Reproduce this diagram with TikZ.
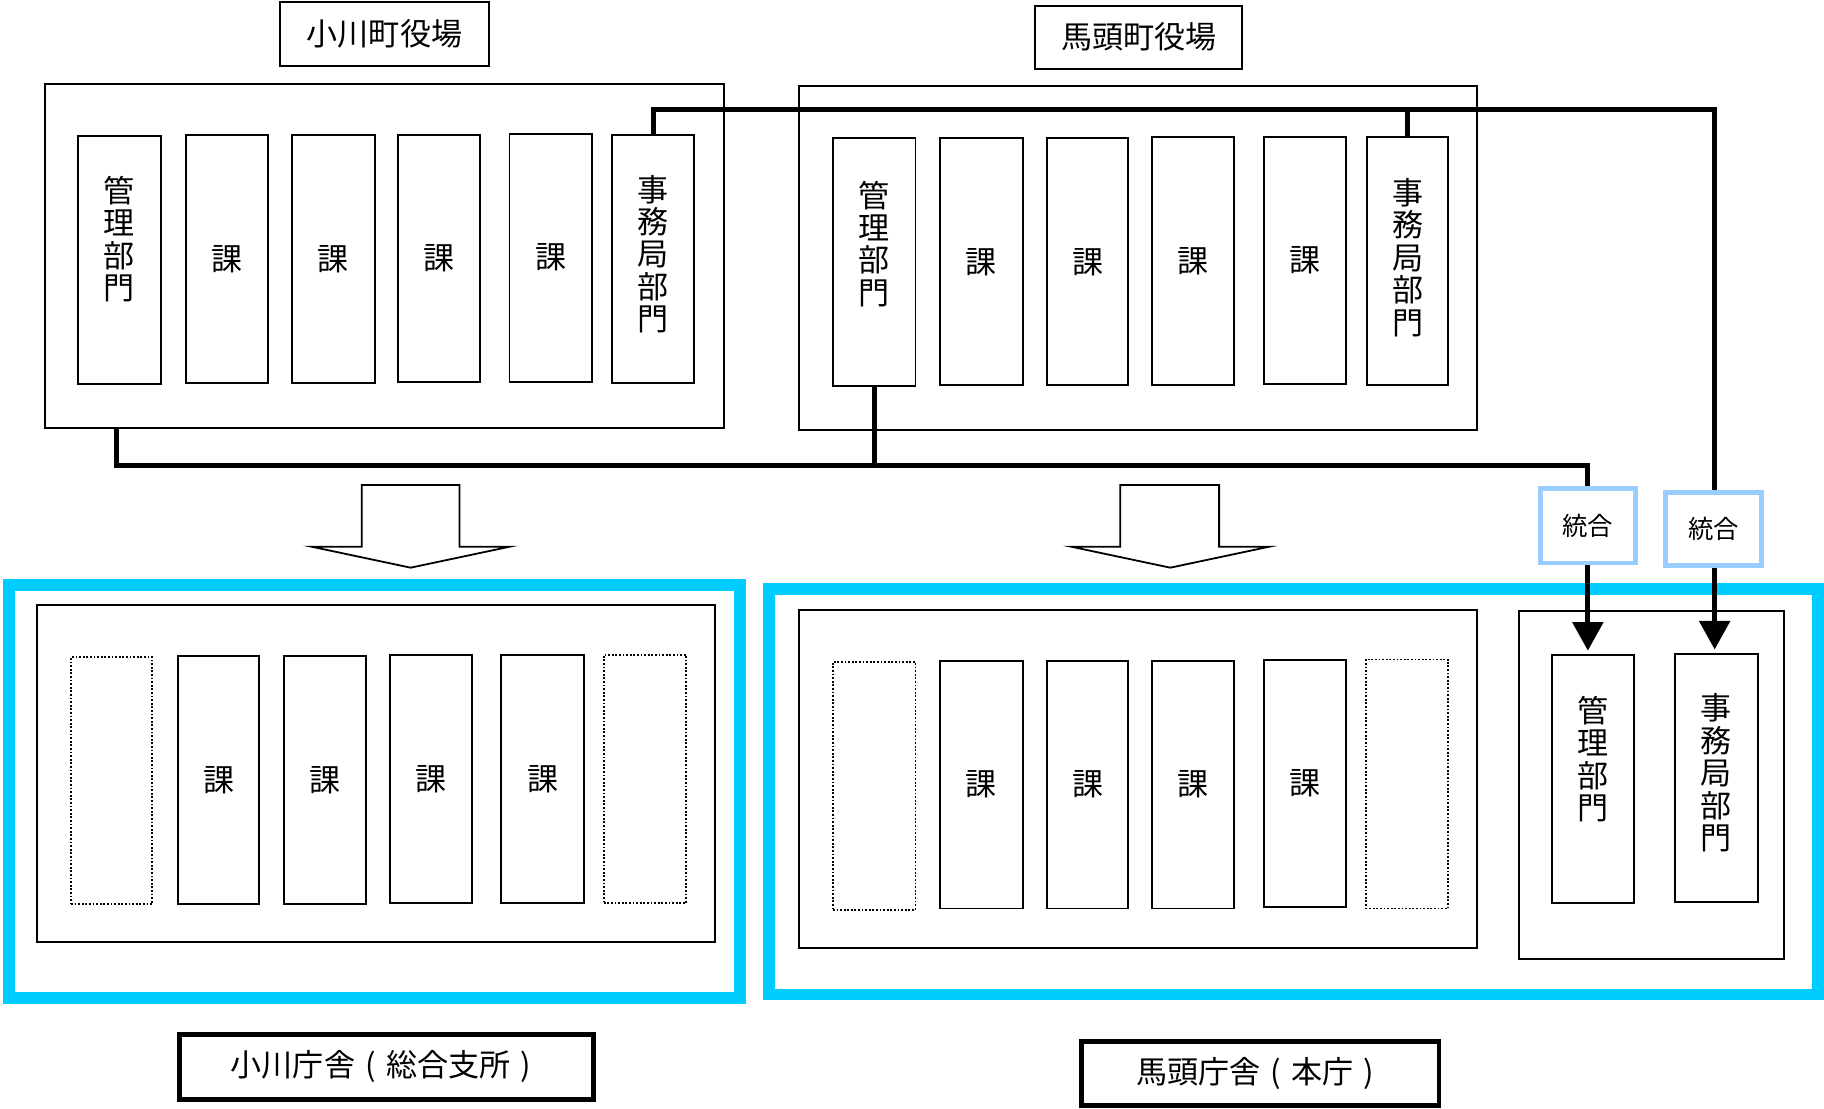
\documentclass[tikz,border=0pt]{standalone}
\usepackage{fontspec}
\setmainfont{Noto Sans CJK JP}
\usetikzlibrary{arrows.meta,calc}
\definecolor{cyanband}{HTML}{00CCFF}
\definecolor{lightband}{HTML}{99CCFF}
\newcommand\bx[6][]{\node[#1, minimum width={(#5-#3)*0.025cm}, minimum height={(#6-#4)*0.025cm}] (#2) at ({(#3+#5)/2},{(#4+#6)/2}) {};}
\newcommand\cpar[1]{\makebox[1em][c]{#1}}
\tikzset{
  thinbox/.style={draw, rectangle, line width=1.2pt, inner sep=0pt, fill=white},
  dotbox/.style={draw, rectangle, line width=1.1pt, dash pattern=on 1.1pt off 1.1pt, inner sep=0pt},
  bandbox/.style={draw=cyanband, rectangle, line width=7.2pt, inner sep=0pt},
  togobox/.style={draw=lightband, rectangle, line width=3pt, inner sep=0pt, font=\fontsize{15.5}{16}\selectfont},
  labelbox/.style={draw, rectangle, line width=3pt, inner sep=0pt, font=\fontsize{19}{20}\selectfont},
  titlebox/.style={draw, rectangle, line width=1.2pt, inner sep=0pt, font=\fontsize{19}{20}\selectfont},
  vtext/.style={inner sep=0pt, align=center, anchor=north, font=\fontsize{19}{19.8}\selectfont},
  ktext/.style={inner sep=0pt, font=\fontsize{19}{20}\selectfont},
  bus/.style={line width=3pt},
  blockarrow/.style={draw, line width=1.1pt, line join=miter, fill=white}
}
\begin{document}
\begin{tikzpicture}[x=0.025cm, y=-0.025cm]
\useasboundingbox (0,0) rectangle (1568,953);

% ---------- titles ----------
\bx[titlebox]{tOgawa}{241}{2}{420}{57}
\node[ktext] (tOgawaT) at (tOgawa) {小川町役場};
\bx[titlebox]{tBato}{890}{5}{1068}{59}
\node[ktext] (tBatoT) at (tBato) {馬頭町役場};

% ---------- top left (Ogawa) ----------
\bx[thinbox]{Lout}{39}{72}{622}{368}
\bx[thinbox]{Lkanri}{67}{117}{138}{330}
\bx[thinbox]{Lka1}{160}{116}{230}{329}
\bx[thinbox]{Lka2}{251}{116}{322}{329}
\bx[thinbox]{Lka3}{342}{116}{413}{328}
\bx[thinbox]{Lka4}{438}{115}{509}{328}
\bx[thinbox]{Ljimu}{526}{116}{597}{329}
\node[vtext] (LkanriT) at ($(Lkanri.north)+(0,35)$) {管\\理\\部\\門};
\node[vtext] (LjimuT) at ($(Ljimu.north)+(0,35)$) {事\\務\\局\\部\\門};
\node[ktext] (Lka1T) at (Lka1) {課};
\node[ktext] (Lka2T) at (Lka2) {課};
\node[ktext] (Lka3T) at (Lka3) {課};
\node[ktext] (Lka4T) at (Lka4) {課};

% ---------- top right (Bato) ----------
\bx[thinbox]{Rout}{687}{74}{1270}{370}
\bx[thinbox]{Rkanri}{716}{119}{787}{332}
\bx[thinbox]{Rka1}{808}{119}{879}{331}
\bx[thinbox]{Rka2}{900}{119}{970}{331}
\bx[thinbox]{Rka3}{990}{118}{1061}{331}
\bx[thinbox]{Rka4}{1087}{118}{1157}{330}
\bx[thinbox]{Rjimu}{1175}{118}{1245}{331}
\node[vtext] (RkanriT) at ($(Rkanri.north)+(0,37)$) {管\\理\\部\\門};
\node[vtext] (RjimuT) at ($(Rjimu.north)+(0,36)$) {事\\務\\局\\部\\門};
\node[ktext] (Rka1T) at (Rka1) {課};
\node[ktext] (Rka2T) at (Rka2) {課};
\node[ktext] (Rka3T) at (Rka3) {課};
\node[ktext] (Rka4T) at (Rka4) {課};

% ---------- integration boxes ----------
\bx[togobox]{TL}{1324}{420}{1406}{484}
\node[inner sep=0pt, font=\fontsize{15.5}{16}\selectfont] (TLT) at (TL) {統合};
\bx[togobox]{TR}{1432}{423}{1514}{486}
\node[inner sep=0pt, font=\fontsize{15.5}{16}\selectfont] (TRT) at (TR) {統合};

% ---------- bus lines ----------
\coordinate (topbus) at (1474,94);
\coordinate (botbus) at (1365,400);
\draw[bus] (Ljimu.north) |- (topbus) -- (TR.north -| topbus);
\draw[bus] (Rjimu.north) -- (Rjimu.north |- topbus);
\draw[bus] ([xshift=-2*0.025cm]Lkanri.south |- Lout.south) |- (botbus) -- (TL.north);
\draw[bus] (Rkanri.south) -- (Rkanri.south |- botbus);

% ---------- block arrows ----------
\draw[blockarrow] (311,470) -- (311,417) -- (395,417) -- (395,470) -- (438,470) -- (353,488) -- (268,470) -- cycle;
\draw[blockarrow] (963,470) -- (963,417) -- (1048,417) -- (1048,470) -- (1091,470) -- (1006,488) -- (921,470) -- cycle;

% ---------- bottom left (Ogawa branch) ----------
\bx[bandbox]{Bleft}{8}{503}{636}{858}
\bx[thinbox]{BLin}{32}{520}{615}{810}
\bx[dotbox]{BLd1}{61}{565}{131}{777}
\bx[thinbox]{BLk1}{153}{564}{223}{777}
\bx[thinbox]{BLk2}{244}{564}{315}{777}
\bx[thinbox]{BLk3}{335}{563}{406}{776}
\bx[thinbox]{BLk4}{431}{563}{502}{776}
\bx[dotbox]{BLd2}{519}{563}{590}{776}
\node[ktext] (BLk1T) at (BLk1) {課};
\node[ktext] (BLk2T) at (BLk2) {課};
\node[ktext] (BLk3T) at (BLk3) {課};
\node[ktext] (BLk4T) at (BLk4) {課};

% ---------- bottom right (Bato main) ----------
\bx[bandbox]{Bright}{661}{506}{1563}{855}
\bx[thinbox]{BRin}{687}{524}{1270}{815}
\bx[dotbox]{BRd1}{716}{569}{787}{782}
\bx[thinbox]{BRk1}{808}{568}{879}{781}
\bx[thinbox]{BRk2}{900}{568}{970}{781}
\bx[thinbox]{BRk3}{990}{568}{1061}{781}
\bx[thinbox]{BRk4}{1087}{567}{1157}{780}
\bx[dotbox]{BRd2}{1174}{567}{1245}{781}
\node[ktext] (BRk1T) at (BRk1) {課};
\node[ktext] (BRk2T) at (BRk2) {課};
\node[ktext] (BRk3T) at (BRk3) {課};
\node[ktext] (BRk4T) at (BRk4) {課};
\bx[thinbox]{BRsub}{1306}{525}{1534}{824}
\bx[thinbox]{BRkanri}{1334}{563}{1405}{776}
\bx[thinbox]{BRjimu}{1440}{562}{1511}{775}
\node[vtext] (BRkanriT) at ($(BRkanri.north)+(0,36)$) {管\\理\\部\\門};
\node[vtext] (BRjimuT) at ($(BRjimu.north)+(0,35)$) {事\\務\\局\\部\\門};

% ---------- arrows ----------
\draw[bus, -{Triangle[length=17.5pt,width=18.5pt]}, shorten >=2pt] (TL.south) -- (TL.south |- BRkanri.north);
\draw[bus, -{Triangle[length=17.5pt,width=18.5pt]}, shorten >=2pt] (TR.south -| topbus) -- (topbus |- BRjimu.north);

% ---------- bottom labels ----------
\bx[labelbox]{lOgawa}{154}{889}{510}{945}
\node[ktext] (lOgawaT) at (lOgawa) {小川庁舎\cpar{(}総合支所\cpar{)}};
\bx[labelbox]{lBato}{930}{895}{1237}{950}
\node[ktext] (lBatoT) at (lBato) {馬頭庁舎\cpar{(}本庁\cpar{)}};
\end{tikzpicture}
\end{document}
